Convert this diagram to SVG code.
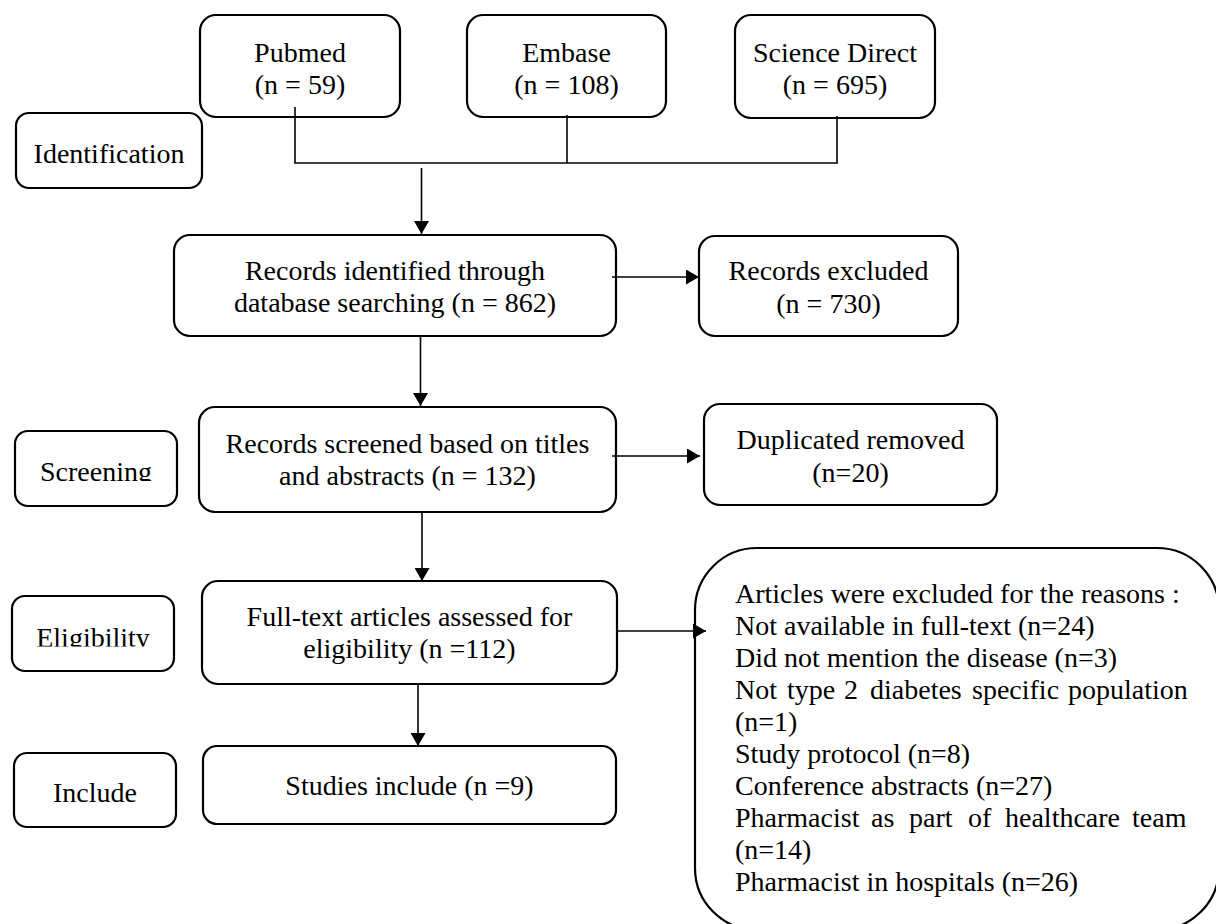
<svg xmlns="http://www.w3.org/2000/svg" width="1216" height="924" viewBox="0 0 1216 924">
<style>
  .box{fill:#fff;stroke:#000;stroke-width:2.2}
  .t{font-family:"Liberation Serif","Times New Roman",serif;font-size:28px;fill:#000}
  .c{text-anchor:middle}
  .ln{fill:none;stroke:#000;stroke-width:1.6}
  .ar{fill:none;stroke:#000;stroke-width:1.6;marker-end:url(#ah)}
</style>
<defs>
  <marker id="ah" markerUnits="userSpaceOnUse" markerWidth="14" markerHeight="15" refX="13" refY="7.5" orient="auto">
    <path d="M0,0 L13,7.5 L0,15 z" fill="#000"/>
  </marker>
  <clipPath id="clipScr"><rect x="15" y="431" width="162" height="50"/></clipPath>
  <clipPath id="clipElig"><rect x="12" y="596" width="162" height="50.5"/></clipPath>
</defs>
<rect width="1216" height="924" fill="#fff"/>

<g id="pubmed">
  <rect class="box" x="200" y="15" width="200" height="102" rx="16"/>
  <text class="t c" x="300" y="62">Pubmed</text>
  <text class="t c" x="300" y="94">(n = 59)</text>
</g>
<g id="embase">
  <rect class="box" x="467" y="15" width="199" height="102" rx="16"/>
  <text class="t c" x="566.5" y="62">Embase</text>
  <text class="t c" x="566.5" y="94">(n = 108)</text>
</g>
<g id="sciencedirect">
  <rect class="box" x="735" y="15" width="200" height="103" rx="16"/>
  <text class="t c" x="835" y="62">Science Direct</text>
  <text class="t c" x="835" y="94">(n = 695)</text>
</g>
<g id="identification">
  <rect class="box" x="16" y="113" width="186" height="75" rx="13"/>
  <text class="t c" x="109" y="163">Identification</text>
</g>
<g id="records-identified">
  <rect class="box" x="174" y="235" width="442" height="101" rx="16"/>
  <text class="t c" x="395" y="280">Records identified through</text>
  <text class="t c" x="395" y="312">database searching (n = 862)</text>
</g>
<g id="records-excluded">
  <rect class="box" x="699" y="236" width="259" height="100" rx="16"/>
  <text class="t c" x="828.5" y="280">Records excluded</text>
  <text class="t c" x="828.5" y="313">(n = 730)</text>
</g>
<g id="screening">
  <rect class="box" x="15" y="431" width="162" height="75" rx="13"/>
  <text class="t c" x="96" y="481" clip-path="url(#clipScr)">Screening</text>
</g>
<g id="records-screened">
  <rect class="box" x="199" y="407" width="417" height="105" rx="16"/>
  <text class="t c" x="407.5" y="453">Records screened based on titles</text>
  <text class="t c" x="407.5" y="485">and abstracts (n = 132)</text>
</g>
<g id="duplicated">
  <rect class="box" x="704" y="404" width="293" height="101" rx="16"/>
  <text class="t c" x="850.5" y="449">Duplicated removed</text>
  <text class="t c" x="850.5" y="482">(n=20)</text>
</g>
<g id="eligibility">
  <rect class="box" x="12" y="596" width="162" height="75" rx="13"/>
  <text class="t c" x="93" y="646.5" clip-path="url(#clipElig)">Eligibility</text>
</g>
<g id="fulltext">
  <rect class="box" x="202" y="581" width="415" height="103" rx="16"/>
  <text class="t c" x="409.5" y="626">Full-text articles assessed for</text>
  <text class="t c" x="409.5" y="658">eligibility (n =112)</text>
</g>
<g id="include">
  <rect class="box" x="14" y="753" width="162" height="74" rx="13"/>
  <text class="t c" x="95" y="802">Include</text>
</g>
<g id="studies">
  <rect class="box" x="203" y="746" width="413" height="78" rx="14"/>
  <text class="t c" x="409.5" y="795">Studies include (n =9)</text>
</g>
<g id="excluded-reasons">
  <rect class="box" x="695" y="548" width="524" height="382" rx="62"/>
  <text class="t" x="735" y="603">Articles were excluded for the reasons :</text>
  <text class="t" x="735" y="635">Not available in full-text (n=24)</text>
  <text class="t" x="735" y="667">Did not mention the disease (n=3)</text>
  <text class="t" y="699"><tspan x="735">Not</tspan><tspan x="787">type</tspan><tspan x="844">2</tspan><tspan x="870">diabetes</tspan><tspan x="972">specific</tspan><tspan x="1068">population</tspan></text>
  <text class="t" x="735" y="731">(n=1)</text>
  <text class="t" x="735" y="763">Study protocol (n=8)</text>
  <text class="t" x="735" y="795">Conference abstracts (n=27)</text>
  <text class="t" y="827"><tspan x="735">Pharmacist</tspan><tspan x="871">as</tspan><tspan x="909">part</tspan><tspan x="968">of</tspan><tspan x="1005">healthcare</tspan><tspan x="1132">team</tspan></text>
  <text class="t" x="735" y="859">(n=14)</text>
  <text class="t" x="735" y="891">Pharmacist in hospitals (n=26)</text>
</g>

<g id="connectors">
  <line class="ln" x1="295" y1="107" x2="295" y2="163"/>
  <line class="ln" x1="567" y1="115" x2="567" y2="163"/>
  <line class="ln" x1="837" y1="116" x2="837" y2="163"/>
  <line class="ln" x1="294.2" y1="163" x2="837.8" y2="163"/>
  <line class="ar" x1="421.5" y1="168" x2="421.5" y2="234"/>
  <line class="ar" x1="612" y1="277" x2="699" y2="277"/>
  <line class="ar" x1="420.5" y1="336" x2="420.5" y2="406"/>
  <line class="ar" x1="612" y1="456" x2="700" y2="456"/>
  <line class="ar" x1="422" y1="512" x2="422" y2="581"/>
  <line class="ar" x1="617" y1="631" x2="706" y2="631"/>
  <line class="ar" x1="418" y1="684" x2="418" y2="746"/>
</g>
</svg>
